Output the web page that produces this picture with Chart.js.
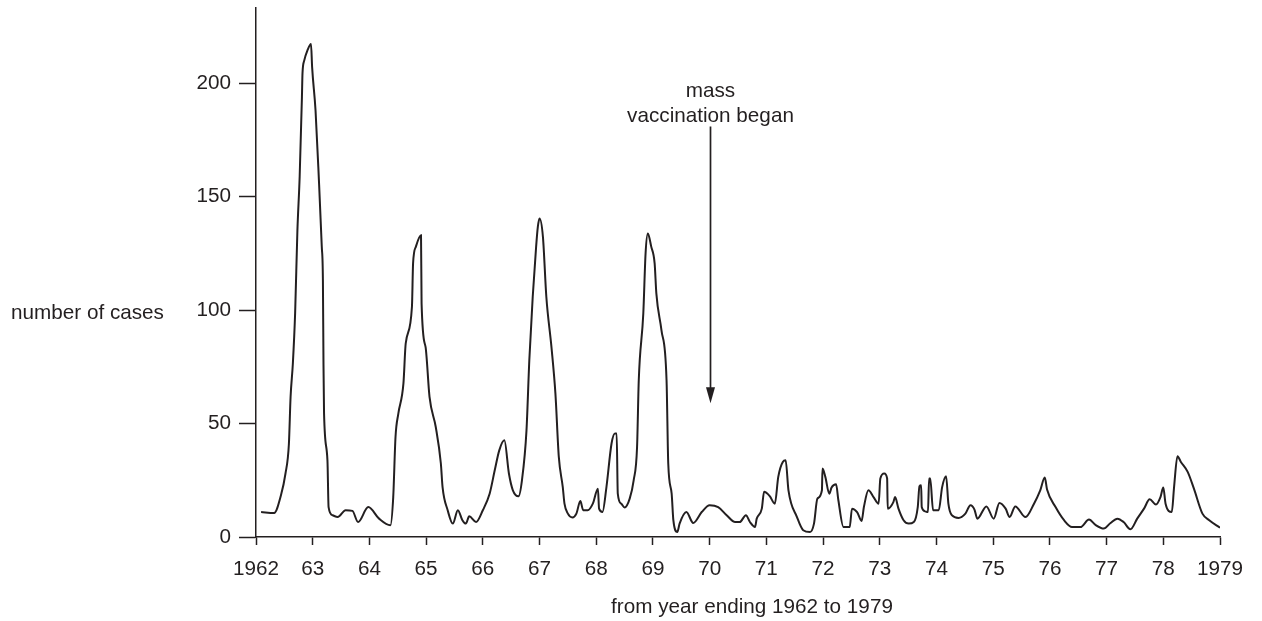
<!DOCTYPE html>
<html>
<head>
<meta charset="utf-8">
<title>number of cases 1962-1979</title>
<script src="https://cdn.jsdelivr.net/npm/chart.js@4.4.0/dist/chart.umd.min.js"></script>
<style>
  html, body { margin: 0; padding: 0; background: #fff; }
  #wrap { width: 1262px; height: 621px; }
</style>
</head>
<body>
<div id="wrap"><canvas id="chart" width="1262" height="621"></canvas></div>
<script>
// year (decimal) and number of cases
const years = [
  1962.09, 1962.32, 1962.44, 1962.52, 1962.58, 1962.61, 1962.65, 1962.69, 1962.73, 1962.77,
  1962.81, 1962.82, 1962.85, 1962.91, 1962.97, 1962.99, 1963.05, 1963.11, 1963.16, 1963.18,
  1963.19, 1963.20, 1963.26, 1963.28, 1963.35, 1963.44, 1963.58, 1963.70, 1963.80, 1963.98,
  1964.17, 1964.37, 1964.42, 1964.46, 1964.51, 1964.60, 1964.64, 1964.75, 1964.77, 1964.82,
  1964.91, 1964.92, 1964.99, 1965.06, 1965.17, 1965.26, 1965.29, 1965.38, 1965.47, 1965.56,
  1965.64, 1965.70, 1965.76, 1965.88, 1966.00, 1966.12, 1966.21, 1966.29, 1966.38, 1966.46,
  1966.53, 1966.63, 1966.69, 1966.77, 1966.82, 1966.88, 1966.94, 1966.97, 1967.00, 1967.06,
  1967.12, 1967.21, 1967.28, 1967.34, 1967.41, 1967.44, 1967.50, 1967.58, 1967.65, 1967.72,
  1967.77, 1967.85, 1967.94, 1968.03, 1968.05, 1968.11, 1968.18, 1968.27, 1968.33, 1968.36,
  1968.38, 1968.44, 1968.50, 1968.59, 1968.66, 1968.72, 1968.75, 1968.83, 1968.87, 1968.91,
  1968.97, 1969.03, 1969.06, 1969.15, 1969.24, 1969.27, 1969.33, 1969.36, 1969.43, 1969.47,
  1969.59, 1969.71, 1969.86, 1970.00, 1970.15, 1970.30, 1970.45, 1970.53, 1970.64, 1970.71,
  1970.80, 1970.83, 1970.92, 1970.96, 1971.06, 1971.15, 1971.21, 1971.29, 1971.34, 1971.39,
  1971.54, 1971.65, 1971.77, 1971.84, 1971.90, 1971.98, 1971.99, 1972.04, 1972.11, 1972.15,
  1972.23, 1972.27, 1972.36, 1972.47, 1972.51, 1972.60, 1972.68, 1972.72, 1972.80, 1972.89,
  1972.98, 1973.01, 1973.08, 1973.13, 1973.14, 1973.24, 1973.27, 1973.33, 1973.42, 1973.51,
  1973.60, 1973.67, 1973.70, 1973.73, 1973.74, 1973.80, 1973.85, 1973.87, 1973.89, 1973.94,
  1974.04, 1974.10, 1974.17, 1974.21, 1974.27, 1974.39, 1974.51, 1974.60, 1974.67, 1974.72,
  1974.88, 1975.01, 1975.11, 1975.22, 1975.29, 1975.39, 1975.57, 1975.72, 1975.83, 1975.91,
  1975.95, 1976.10, 1976.25, 1976.39, 1976.54, 1976.69, 1976.81, 1976.95, 1977.07, 1977.19,
  1977.30, 1977.42, 1977.54, 1977.66, 1977.76, 1977.87, 1977.95, 1978.00, 1978.04, 1978.15,
  1978.19, 1978.25, 1978.31, 1978.43, 1978.54, 1978.69, 1978.81, 1979.00
];
const cases = [
  11.0, 10.6, 18.4, 28, 41, 61.8, 76.5, 98.7, 135, 158.8,
  194, 204.4, 210, 214.7, 217.3, 207, 188, 157, 128, 113,
  76.5, 54.5, 33.8, 13.2, 9.6, 8.8, 11.8, 11.5, 6.6, 13.2,
  8.1, 5.2, 17.6, 44, 54.4, 67.7, 85.3, 101.5, 120.6, 128,
  133, 103, 83.8, 61.8, 48.5, 32.4, 22, 11.8, 5.9, 11.8,
  7.4, 5.9, 9.1, 6.6, 11.8, 19.1, 29.4, 38.2, 42.6, 28,
  20.6, 18, 25, 47, 78, 105.9, 128, 136.7, 140.4, 132.3,
  105.9, 83.8, 63.3, 35.3, 22, 14.7, 10.3, 8.6, 10.3, 15.9,
  11.8, 11.8, 14.7, 21.3, 12.5, 11, 22, 41.2, 45.6, 45.6,
  19.1, 14.7, 13, 16.9, 25, 39.7, 69.1, 98.5, 125, 133.8,
  128, 120.6, 107.4, 91.2, 69.1, 32.4, 19.1, 7.4, 2.2, 5.9,
  11, 6.2, 11, 14, 13.2, 9.6, 6.6, 6.6, 9.6, 6.6,
  4.4, 8.1, 12.5, 19.9, 18, 14.7, 26.5, 33.1, 33.8, 20.6,
  8.8, 3, 2.2, 5.9, 16.9, 20.6, 30.2, 26.5, 19.1, 21.8,
  23.2, 16.2, 4.4, 4.4, 12.5, 11, 7.1, 13.2, 20.6, 17.6,
  14.7, 25.8, 28, 25.8, 12.5, 15.4, 17.6, 12.5, 7.4, 5.9,
  6.6, 13.2, 22.4, 22.8, 13.2, 11.3, 11, 25.8, 25.8, 11.8,
  11.8, 22, 26.8, 14.7, 9.6, 8.4, 10.3, 14, 12.1, 8.1,
  13.5, 8.1, 15, 12.5, 8.8, 13.5, 8.8, 14.7, 20.6, 26.2,
  20.9, 13.2, 7.4, 4.4, 4.4, 7.7, 5.2, 3.7, 6.2, 8.1,
  6.6, 3.4, 8.1, 12.5, 16.6, 14.3, 17.6, 21.8, 14.7, 11,
  22, 35.6, 33.1, 28.7, 21.3, 10.3, 7.4, 4.1
];

const tickYears = [1962, 1963, 1964, 1965, 1966, 1967, 1968, 1969, 1970, 1971, 1972, 1973, 1974, 1975, 1976, 1977, 1978, 1979];
const tickLabels = ['1962', '63', '64', '65', '66', '67', '68', '69', '70', '71', '72', '73', '74', '75', '76', '77', '78', '1979'];
const yTicks = [0, 50, 100, 150, 200];

const yLabel = 'number of cases';
const xLabel = 'from year ending 1962 to 1979';
const noteLines = ['mass', 'vaccination began'];
const noteYear = 1970;
const arrowFrom = 181;
const arrowTo = 59;

const ink = '#231f20';
const fontFamily = '"Liberation Sans", Arial, Helvetica, sans-serif';
const fontSize = 20.7;

// texts that Chart.js can't place the way the figure does
const extras = {
  id: 'extras',
  afterDraw(chart) {
    const ctx = chart.ctx;
    const xs = chart.scales.x, ys = chart.scales.y;
    ctx.save();
    ctx.fillStyle = ink;
    ctx.strokeStyle = ink;
    ctx.font = fontSize + 'px ' + fontFamily;

    ctx.textAlign = 'left';
    ctx.textBaseline = 'middle';
    ctx.fillText(yLabel, 11, 313);

    ctx.textAlign = 'center';
    ctx.fillText(xLabel, 752, 607);

    // annotation + arrow
    const ax = Math.round(xs.getPixelForValue(noteYear)) + 0.5;
    ctx.textBaseline = 'alphabetic';
    ctx.fillText(noteLines[0], ax, 97);
    ctx.fillText(noteLines[1], ax, 122);

    const y1 = ys.getPixelForValue(arrowFrom);
    const y2 = ys.getPixelForValue(arrowTo);
    ctx.lineWidth = 1.7;
    ctx.beginPath();
    ctx.moveTo(ax, y1);
    ctx.lineTo(ax, y2 - 14);
    ctx.stroke();
    ctx.beginPath();
    ctx.moveTo(ax - 4.5, y2 - 16);
    ctx.lineTo(ax + 4.5, y2 - 16);
    ctx.lineTo(ax, y2);
    ctx.closePath();
    ctx.fill();
    ctx.restore();
  }
};

const ctx = document.getElementById('chart');
new Chart(ctx.getContext('2d'), {
  type: 'line',
  data: {
    datasets: [{
      data: years.map((y, i) => ({ x: y, y: cases[i] })),
      borderColor: ink,
      borderWidth: 2,
      fill: false,
      cubicInterpolationMode: 'monotone',
      pointRadius: 0
    }]
  },
  options: {
    responsive: false,
    animation: false,
    layout: { padding: { left: 0, right: 42, top: 8, bottom: 0 } },
    plugins: { legend: { display: false }, tooltip: { enabled: false } },
    scales: {
      x: {
        type: 'linear',
        min: 1962,
        max: 1979,
        afterBuildTicks: s => { s.ticks = tickYears.map(v => ({ value: v })); },
        afterFit: s => { s.height = 84; s.paddingLeft = 0; s.paddingRight = 0; },
        grid: { drawOnChartArea: false, drawTicks: true, tickLength: 8, tickWidth: 1.5, tickColor: ink },
        border: { display: true, color: ink, width: 1.5 },
        ticks: {
          color: ink,
          font: { family: fontFamily, size: fontSize },
          padding: 12,
          maxRotation: 0,
          autoSkip: false,
          callback: (v, i) => tickLabels[i]
        }
      },
      y: {
        min: 0,
        max: 233.2,
        afterBuildTicks: s => { s.ticks = yTicks.map(v => ({ value: v })); },
        afterFit: s => { s.width = 256; s.paddingTop = 0; s.paddingBottom = 0; },
        grid: { drawOnChartArea: false, drawTicks: true, tickLength: 17, tickWidth: 1.5, tickColor: ink },
        border: { display: true, color: ink, width: 1.5 },
        ticks: {
          color: ink,
          font: { family: fontFamily, size: fontSize },
          padding: 8,
          autoSkip: false,
          callback: v => String(v)
        }
      }
    }
  },
  plugins: [extras]
});
</script>
</body>
</html>
